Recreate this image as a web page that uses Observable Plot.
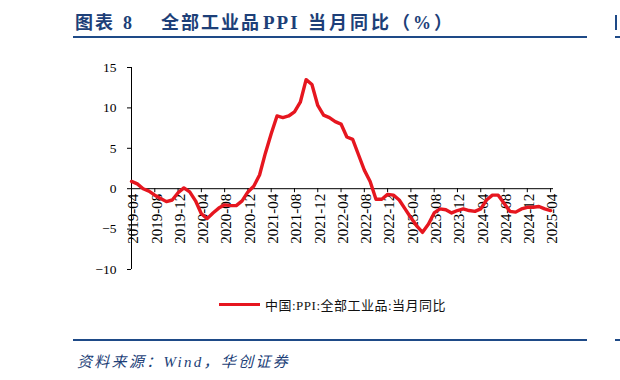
<!DOCTYPE html>
<html>
<head>
<meta charset="utf-8">
<script src="https://cdn.jsdelivr.net/npm/d3@7"></script>
<script src="https://cdn.jsdelivr.net/npm/@observablehq/plot@0.6"></script>
<style>
  body { margin:0; width:620px; height:380px; position:relative; background:#fff; overflow:hidden; }
  .abs { position:absolute; }
  #title { left:75px; top:8px; font-family:"Liberation Serif","Noto Sans CJK SC",serif; font-weight:bold; font-size:18px; color:#1d3f78; letter-spacing:2px; white-space:nowrap; }
  #title span { display:inline-block; }
  .rule { background:#1e4a87; height:2px; }
  #legend { left:219px; top:296px; height:17px; display:flex; align-items:center; white-space:nowrap; }
  #legend .sw { width:41px; height:3px; background:#e6161f; margin-right:5px; }
  #legend .tx { font-family:"Liberation Serif","Noto Sans CJK SC",serif; font-size:13px; color:#111; letter-spacing:0.5px; }
  #source { left:77px; top:350px; font-family:"Liberation Serif","Noto Sans CJK SC",serif; font-style:italic; font-size:15px; color:#1d3f78; letter-spacing:2.3px; white-space:nowrap; }
</style>
</head>
<body>
<div id="chart" class="abs" style="left:0;top:0"></div>
<div id="title" class="abs"><span style="width:48px">图表</span><span style="width:38px">8</span><span style="width:102px">全部工业品</span><span style="width:45px;font-size:19px">PPI</span><span style="width:84px;letter-spacing:3px">当月同比</span><span style="letter-spacing:1px">（<span style="margin:0 2px">%</span>）</span></div>
<div class="abs rule" style="left:73px;top:36px;width:514px"></div>
<div class="abs" style="left:615px;top:15px;width:2px;height:15px;background:#1e4a87"></div>
<div class="abs rule" style="left:615px;top:36px;width:5px"></div>
<div id="legend" class="abs"><div class="sw"></div><span class="tx">中国:PPI:全部工业品:当月同比</span></div>
<div class="abs rule" style="left:73px;top:339px;width:514px"></div>
<div class="abs rule" style="left:615px;top:339px;width:5px"></div>
<div id="source" class="abs">资料来源：Wind，华创证券</div>
<script>
const months = [
  "2019-04","2019-05","2019-06","2019-07","2019-08","2019-09","2019-10","2019-11","2019-12",
  "2020-01","2020-02","2020-03","2020-04","2020-05","2020-06","2020-07","2020-08","2020-09","2020-10","2020-11","2020-12",
  "2021-01","2021-02","2021-03","2021-04","2021-05","2021-06","2021-07","2021-08","2021-09","2021-10","2021-11","2021-12",
  "2022-01","2022-02","2022-03","2022-04","2022-05","2022-06","2022-07","2022-08","2022-09","2022-10","2022-11","2022-12",
  "2023-01","2023-02","2023-03","2023-04","2023-05","2023-06","2023-07","2023-08","2023-09","2023-10","2023-11","2023-12",
  "2024-01","2024-02","2024-03","2024-04","2024-05","2024-06","2024-07","2024-08","2024-09","2024-10","2024-11","2024-12",
  "2025-01","2025-02","2025-03","2025-04"
];
const ppiYoY = [
  0.9, 0.6, 0.0, -0.3, -0.8, -1.2, -1.6, -1.4, -0.5,
  0.1, -0.4, -1.5, -3.1, -3.7, -3.0, -2.4, -2.0, -2.1, -2.1, -1.5, -0.4,
  0.3, 1.7, 4.4, 6.8, 9.0, 8.8, 9.0, 9.5, 10.7, 13.5, 12.9, 10.3,
  9.1, 8.8, 8.3, 8.0, 6.4, 6.1, 4.2, 2.3, 0.9, -1.3, -1.3, -0.7,
  -0.8, -1.4, -2.5, -3.6, -4.6, -5.4, -4.4, -3.0, -2.5, -2.6, -3.0, -2.7,
  -2.5, -2.7, -2.8, -2.5, -1.4, -0.8, -0.8, -1.8, -2.8, -2.9, -2.5, -2.3,
  -2.3, -2.2, -2.5, -2.7
];
const xTickLabels = [
  "2019-04","2019-08","2019-12","2020-04","2020-08","2020-12","2021-04","2021-08","2021-12",
  "2022-04","2022-08","2022-12","2023-04","2023-08","2023-12","2024-04","2024-08","2024-12","2025-04"
];
const yTicks = [-10, -5, 0, 5, 10, 15];

const rows = ppiYoY.map((v, i) => ({i, month: months[i], v}));
const tickIdx = xTickLabels.map(l => months.indexOf(l));

const chart = Plot.plot({
  width: 620,
  height: 380,
  marginTop: 67,
  marginBottom: 111,
  marginLeft: 131,
  marginRight: 67,
  style: {fontFamily: "'Liberation Serif', serif", fontSize: "13px", color: "#000", background: "transparent"},
  x: {domain: [0, months.length - 0.5], axis: null},
  y: {domain: [-10, 15]},
  marks: [
    Plot.axisY({ticks: yTicks, tickSize: 4, tickPadding: 11, label: null, fontSize: 13.5, stroke: "#000"}),
    Plot.ruleX([0], {stroke: "#000", strokeWidth: 1}),
    Plot.ruleY([0], {stroke: "#000", strokeWidth: 1}),
    Plot.ruleX(tickIdx, {x: d => d, y1: () => 0, y2: () => 0, insetBottom: -4, stroke: "#000"}),
    Plot.text(tickIdx, {x: d => d, y: () => 0, text: d => months[d], rotate: -90, textAnchor: "end", dy: 5, dx: 2, fontSize: 15, fill: "#000"}),
    Plot.line(rows, {x: "i", y: "v", stroke: "#e6161f", strokeWidth: 3.4})
  ]
});
document.getElementById("chart").appendChild(chart);
</script>
</body>
</html>
